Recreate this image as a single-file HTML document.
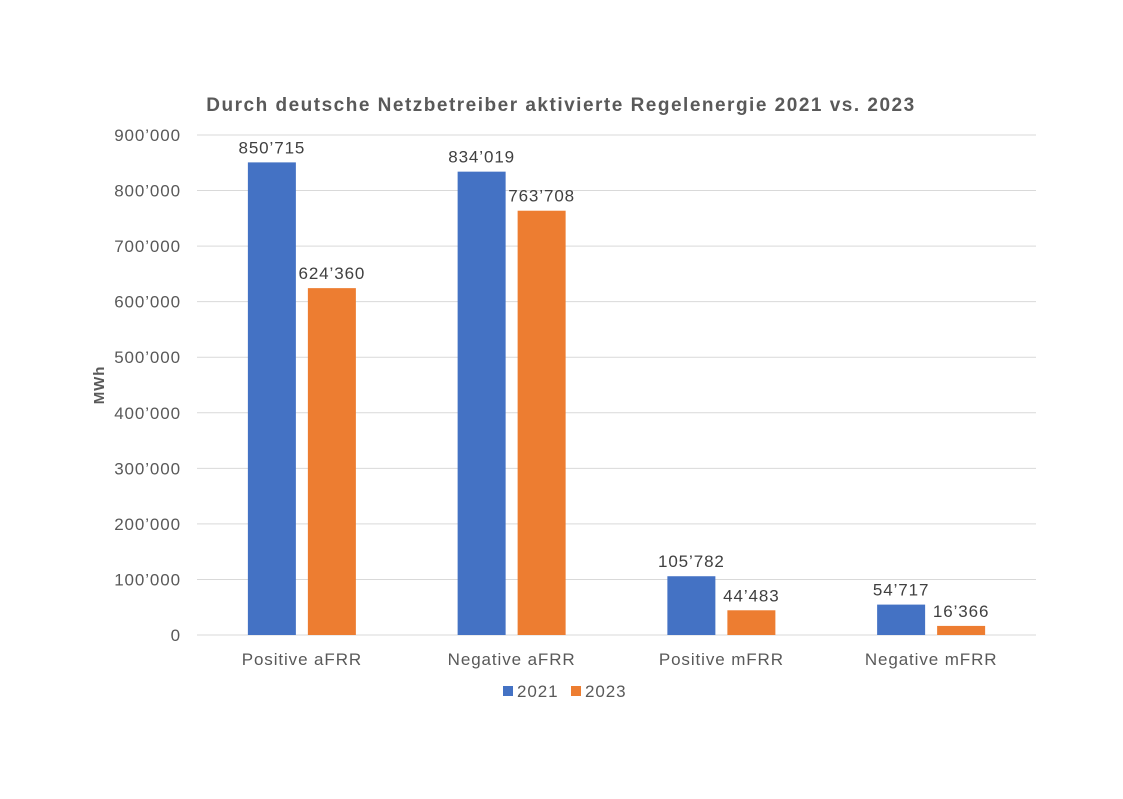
<!DOCTYPE html>
<html><head><meta charset="utf-8"><style>
body{margin:0;background:#fff;width:1123px;height:794px;overflow:hidden;font-family:"Liberation Sans",Arial,sans-serif}
text{letter-spacing:0.9px}
</style></head><body>
<svg id="chart" width="1123" height="794" xmlns="http://www.w3.org/2000/svg" font-family="Liberation Sans, Arial, sans-serif">
<text x="561" y="111" text-anchor="middle" font-size="19" font-weight="bold" fill="#595959" style="letter-spacing:1.5px">Durch deutsche Netzbetreiber aktivierte Regelenergie 2021 vs. 2023</text>
<text transform="translate(104,385) rotate(-90)" text-anchor="middle" font-size="15" font-weight="bold" fill="#595959">MWh</text>
<g id="grid"></g><g id="bars"></g><g id="labels"></g>
<g>
<rect x="503" y="686" width="10" height="10" fill="#4472C4"/>
<text x="517" y="697" font-size="17" fill="#595959">2021</text>
<rect x="571" y="686" width="10" height="10" fill="#ED7D31"/>
<text x="585" y="697" font-size="17" fill="#595959">2023</text>
</g>
</svg>
<script>
const categories=["Positive aFRR","Negative aFRR","Positive mFRR","Negative mFRR"];
const values2021=[850715,834019,105782,54717];
const values2023=[624360,763708,44483,16366];
const yTicks=[0,100000,200000,300000,400000,500000,600000,700000,800000,900000];
const NS="http://www.w3.org/2000/svg";
const x0=197,x1=1036,y0=635,y1=135,yMax=900000;
const y=v=>y0-(v/yMax)*(y0-y1);
const band=(x1-x0)/categories.length;
const cx=i=>x0+band*(i+0.5);
const fmt=v=>{const s=String(v);return s.length>3?s.slice(0,-3)+"’"+s.slice(-3):s;};
function mk(tag,attrs,parent,text){const e=document.createElementNS(NS,tag);for(const k in attrs)e.setAttribute(k,attrs[k]);if(text!==undefined)e.textContent=text;document.getElementById(parent).appendChild(e);return e;}
yTicks.forEach(t=>{
 const l=mk("line",{x1:x0,x2:x1,y1:y(t),y2:y(t),stroke:"#D9D9D9","stroke-width":1},"grid");
 
 
 const tx=mk("text",{x:181,y:y(t)+6,"text-anchor":"end","font-size":17,fill:"#595959"},"grid",fmt(t));
 
 
});
const bw=48,gap=12;
categories.forEach((c,i)=>{
 [[values2021,"#4472C4",-1],[values2023,"#ED7D31",1]].forEach(([arr,col,s])=>{
  const bx=s<0?cx(i)-gap/2-bw:cx(i)+gap/2;
  const r=mk("rect",{x:bx,y:y(arr[i]),width:bw,height:y0-y(arr[i]),fill:col},"bars");
  
  
  const t=mk("text",{x:bx+bw/2,y:y(arr[i])-9,"text-anchor":"middle","font-size":17,fill:"#404040"},"labels",fmt(arr[i]));
  
  
 });
 const ct=mk("text",{x:cx(i),y:665,"text-anchor":"middle","font-size":17,fill:"#595959"},"labels",c);
 
 
});
const ax=mk("line",{x1:x0,x2:x1,y1:y0,y2:y0,stroke:"#D9D9D9"},"grid");


</script>
</body></html>
